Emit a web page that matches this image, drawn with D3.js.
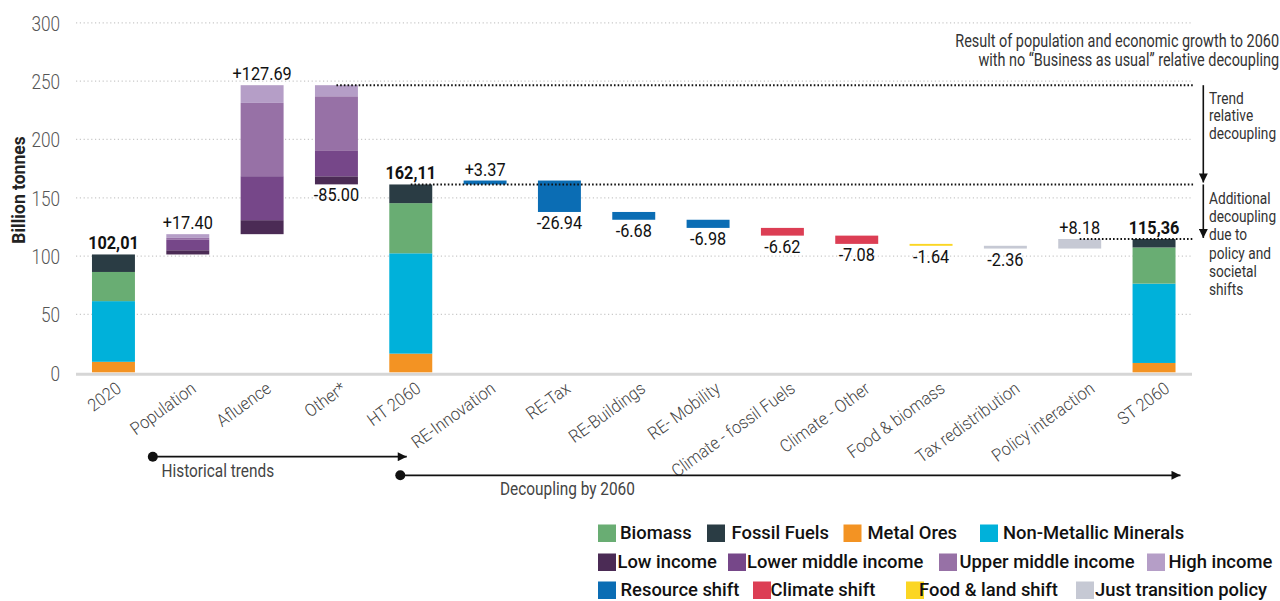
<!DOCTYPE html>
<html><head><meta charset="utf-8">
<script src="https://cdn.jsdelivr.net/npm/d3@7"></script>
<style>body{margin:0;background:#fff} svg{display:block}</style>
</head><body><svg id="c" width="1280" height="601"></svg>
<script>
// ---------------- DATA ----------------
const categories = ["2020","Population","Afluence","Other*","HT 2060","RE-Innovation","RE-Tax","RE-Buildings","RE- Mobility","Climate - fossil Fuels","Climate - Other","Food & biomass","Tax redistribution","Policy interaction","ST 2060"];
const yTicks = [0,50,100,150,200,250,300];

const materialSeries = ["Metal Ores","Non-Metallic Minerals","Biomass","Fossil Fuels"]; // bottom -> top
const materials2020   = [9, 52, 25, 15];
const materialsHT2060 = [16, 86, 43, 16];
const materialsST2060 = [8, 68, 31, 7.3];
const totalLabels = ["102,01","162,11","115,36"];

const incomeSeries = ["Low income","Lower middle income","Upper middle income","High income"]; // bottom -> top
const incomePopulation = [3.6, 8.9, 1.7, 3.2];      // +17.40
const incomeAffluence  = [12.0, 37.7, 62.8, 15.19]; // +127.69
const incomeOther      = [-6.9, -22.3, -46.3, -9.5]; // -85.00
const incomeLabels = ["+17.40","+127.69","-85.00"];

const policyCategories = ["RE-Innovation","RE-Tax","RE-Buildings","RE- Mobility","Climate - fossil Fuels","Climate - Other","Food & biomass","Tax redistribution","Policy interaction"];
const policyDeltas = [3.37, -26.94, -6.68, -6.98, -6.62, -7.08, -1.64, -2.36, 8.18];
const policyGroups = ["Resource shift","Resource shift","Resource shift","Resource shift","Climate shift","Climate shift","Food & land shift","Just transition policy","Just transition policy"];

const colors = {
  "Biomass":"#69ad73","Fossil Fuels":"#2a3c44","Metal Ores":"#f39323","Non-Metallic Minerals":"#00b1da",
  "Low income":"#4b2b55","Lower middle income":"#764789","Upper middle income":"#9771a6","High income":"#b59ec7",
  "Resource shift":"#0b6db4","Climate shift":"#dc3e54","Food & land shift":"#fbd623","Just transition policy":"#c6c9d4"
};
const legendRows = [
  ["Biomass","Fossil Fuels","Metal Ores","Non-Metallic Minerals"],
  ["Low income","Lower middle income","Upper middle income","High income"],
  ["Resource shift","Climate shift","Food & land shift","Just transition policy"]
];
// layout only (swatch x, text x) per legend item
const legendLayout = [
  [[598,620],[707,731.5],[843.5,867.5],[980,1003]],
  [[598,617.5],[728,747],[939,959.5],[1147,1168.5]],
  [[598,620.5],[753,770.5],[906,919],[1076,1095]]
];

// ---------------- SCALES ----------------
const svg = d3.select("#c");
const FONT = "Roboto, 'Noto Sans', sans-serif";
const SX = 0.87; // horizontal squeeze to imitate a condensed face
const x = d3.scaleBand().domain(categories).range([76,1191.5]).paddingInner(0.422).paddingOuter(0.215);
const y = d3.scaleLinear().domain([0,300]).range([372.3,22.3]);
const bw = x.bandwidth();
const cx = c => x(c) + bw/2;

function ctext(parent, px, py, str, o={}) {
  const g = parent.append("g").attr("transform", `translate(${px},${py})` + (o.rotate?` rotate(${o.rotate})`:"") + ` scale(${o.sx||SX},1)`);
  g.append("text").text(str)
    .attr("font-family", FONT).attr("font-size", o.size||18).attr("font-weight", o.weight||400)
    .attr("fill", o.fill||"#111").attr("text-anchor", o.anchor||"middle");
  return g;
}

// ---------------- GRID / AXIS ----------------
const TSX = 0.86;
const yAxis = svg.append("g").attr("transform","translate(76,0)")
  .call(d3.axisLeft(y).tickValues(yTicks).tickSize(-1116).tickPadding(16));
yAxis.select(".domain").remove();
yAxis.selectAll(".tick line").attr("stroke","#c9c9c9").attr("stroke-width",1.2).attr("stroke-dasharray","1.2,2.6");
yAxis.selectAll(".tick text").attr("font-family",FONT).attr("font-size",20).attr("font-weight",300)
  .attr("fill","#555").attr("x",-16/TSX).attr("dy","0.40em").attr("transform",`scale(${TSX},1)`);
yAxis.selectAll(".tick").filter(d=>d===0).select("line").attr("stroke","#d6d6d6").attr("stroke-width",3).attr("stroke-dasharray",null).attr("transform","translate(0,1.5)");

svg.append("text").attr("transform","translate(25,190) rotate(-90)").attr("text-anchor","middle")
  .attr("font-family",FONT).attr("font-size",17.5).attr("font-weight",700).attr("fill","#222").text("Billion tonnes");

// ---------------- BARS ----------------
const bars = svg.append("g");
function stackBar(cat, base, vals, names) {
  let acc = base;
  vals.forEach((v,i)=>{
    const a = Math.abs(v);
    bars.append("rect").attr("x",x(cat)).attr("width",bw)
      .attr("y",y(acc+a)).attr("height",y(acc)-y(acc+a)).attr("fill",colors[names[i]]);
    acc += a;
  });
  return acc;
}
const labelG = svg.append("g");
function posLabel(cat, top, str, bold){ ctext(labelG, cx(cat), y(top)-5, str, {size:18.5, weight:bold?700:400, sx:0.88}); }
function negLabel(cat, bottom, str){ ctext(labelG, cx(cat), y(bottom)+17, str, {size:18.5, sx:0.88}); }
const fmtDelta = d => (d>0?"+":"-") + Math.abs(d).toFixed(2);

let running = d3.sum(materials2020);
stackBar("2020", 0, materials2020, materialSeries);
posLabel("2020", running, totalLabels[0], true);

const incomeSets = [["Population",incomePopulation],["Afluence",incomeAffluence],["Other*",incomeOther]];
const refLevels = {};
incomeSets.forEach(([cat,vals],k)=>{
  const d = d3.sum(vals);
  const start = running, end = running + d;
  const lo = Math.min(start,end);
  stackBar(cat, lo, vals, incomeSeries);
  if (d >= 0) posLabel(cat, end, incomeLabels[k]); else negLabel(cat, end, incomeLabels[k]);
  if (cat==="Afluence") refLevels.growth = end;
  running = end;
});

const htTotal = d3.sum(materialsHT2060);
stackBar("HT 2060", 0, materialsHT2060, materialSeries);
posLabel("HT 2060", htTotal, totalLabels[1], true);
refLevels.ht = htTotal;
running = htTotal;

policyCategories.forEach((cat,i)=>{
  const d = policyDeltas[i];
  const start = running, end = running + d;
  const lo = Math.min(start,end), hi = Math.max(start,end);
  bars.append("rect").attr("x",x(cat)).attr("width",bw).attr("y",y(hi)).attr("height",y(lo)-y(hi)).attr("fill",colors[policyGroups[i]]);
  if (d>0) posLabel(cat, hi, fmtDelta(d)); else negLabel(cat, lo, fmtDelta(d));
  running = end;
});

const stTotal = d3.sum(materialsST2060);
stackBar("ST 2060", 0, materialsST2060, materialSeries);
posLabel("ST 2060", stTotal, totalLabels[2], true);
refLevels.st = stTotal;

// ---------------- REFERENCE LINES & ARROWS ----------------
const ann = svg.append("g");
const xEnd = 1193.5;
[["Other*",refLevels.growth],["HT 2060",refLevels.ht],["Policy interaction",refLevels.st]].forEach(([c,v])=>{
  ann.append("line").attr("x1",cx(c)).attr("x2",xEnd).attr("y1",y(v)).attr("y2",y(v))
    .attr("stroke","#111").attr("stroke-width",2).attr("stroke-dasharray","1.6,2.1");
});
const defs = svg.append("defs");
defs.append("marker").attr("id","ah").attr("viewBox","0 0 10 10").attr("refX",10).attr("refY",5)
  .attr("markerWidth",12).attr("markerHeight",9).attr("markerUnits","userSpaceOnUse").attr("orient","auto")
  .append("path").attr("d","M0,0 L10,5 L0,10 Z").attr("fill","#111");
const ax = 1203.3;
ann.append("line").attr("x1",ax).attr("x2",ax).attr("y1",y(refLevels.growth)).attr("y2",y(refLevels.ht)-2)
  .attr("stroke","#111").attr("stroke-width",1.6).attr("marker-end","url(#ah)");
ann.append("line").attr("x1",ax).attr("x2",ax).attr("y1",y(refLevels.ht)).attr("y2",y(refLevels.st)-1)
  .attr("stroke","#111").attr("stroke-width",1.6).attr("marker-end","url(#ah)");

ctext(ann, 1279, 47, "Result of population and economic growth to 2060", {size:17.5, anchor:"end", fill:"#333", sx:0.825});
ctext(ann, 1279, 65.5, "with no \u201CBusiness as usual\u201D relative decoupling", {size:17.5, anchor:"end", fill:"#333", sx:0.825});
["Trend","relative","decoupling"].forEach((t,i)=> ctext(ann, 1209, 103.5+i*17.5, t, {size:16.5, anchor:"start", fill:"#333", sx:0.83}));
["Additional","decoupling","due to","policy and","societal","shifts"].forEach((t,i)=> ctext(ann, 1209, 204+i*18.2, t, {size:16.5, anchor:"start", fill:"#333", sx:0.83}));

// ---------------- X LABELS ----------------
const xl = svg.append("g");
categories.forEach((c,i)=>{
  ctext(xl, cx(c)+9+i*0.55, 391, c, {size:17.5, weight:300, fill:"#444", anchor:"end", rotate:-36, sx:0.93});
});

// period arrows
const arr = svg.append("g");
arr.append("circle").attr("cx",x("Population")-13.5).attr("cy",456.7).attr("r",5).attr("fill","#111");
arr.append("line").attr("x1",x("Population")-13.5).attr("x2",cx("HT 2060")-4).attr("y1",456.7).attr("y2",456.7)
  .attr("stroke","#111").attr("stroke-width",1.8).attr("marker-end","url(#ah)");
ctext(arr, 161.5, 476.5, "Historical trends", {size:17.5, weight:400, fill:"#444", anchor:"start", sx:0.88});
arr.append("circle").attr("cx",x("HT 2060")+11).attr("cy",475.3).attr("r",5).attr("fill","#111");
arr.append("line").attr("x1",x("HT 2060")+11).attr("x2",xEnd-13).attr("y1",475.3).attr("y2",475.3)
  .attr("stroke","#111").attr("stroke-width",1.8).attr("marker-end","url(#ah)");
ctext(arr, 500, 495, "Decoupling by 2060", {size:17.5, weight:400, fill:"#444", anchor:"start", sx:0.88});

// ---------------- LEGEND ----------------
const lg = svg.append("g");
const rowY = [524.5, 553.5, 581.5];
legendRows.forEach((row,r)=>{
  row.forEach((name,i)=>{
    const [sx, tx] = legendLayout[r][i];
    lg.append("rect").attr("x",sx).attr("y",rowY[r]).attr("width",18).attr("height",17.5).attr("fill",colors[name]);
    lg.append("text").attr("x",tx).attr("y",rowY[r]+14.3).text(name)
      .attr("font-family",FONT).attr("font-size",18.4).attr("font-weight",500).attr("fill","#111");
  });
});
</script></body></html>
